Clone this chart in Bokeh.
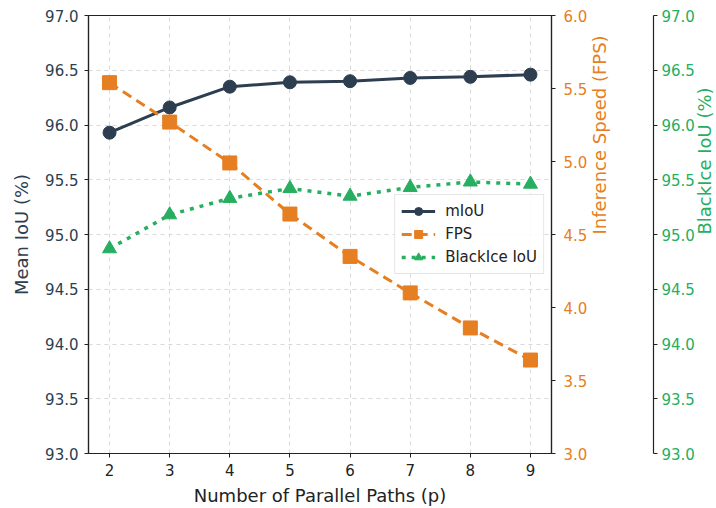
import math
from bokeh.plotting import figure
from bokeh.models import LinearAxis, Range1d, FixedTicker, NumeralTickFormatter, Legend, LegendItem, Title
from bokeh.embed import file_html
from bokeh.resources import INLINE

paths = [2, 3, 4, 5, 6, 7, 8, 9]
miou = [95.93, 96.16, 96.35, 96.39, 96.40, 96.43, 96.44, 96.46]
fps = [5.54, 5.27, 4.99, 4.64, 4.35, 4.10, 3.86, 3.64]
blackice = [94.87, 95.18, 95.33, 95.42, 95.35, 95.43, 95.48, 95.46]

iou_ticks = [93.0, 93.5, 94.0, 94.5, 95.0, 95.5, 96.0, 96.5, 97.0]
fps_ticks = [3.0, 3.5, 4.0, 4.5, 5.0, 5.5, 6.0]

NAVY = "#2c3e50"
ORANGE = "#e67e22"
GREEN = "#27ae60"
FONT = "DejaVu Sans"

p = figure(frame_width=463, frame_height=438,
           x_range=Range1d(1.65, 9.35), y_range=Range1d(93, 97),
           output_backend="svg", toolbar_location=None,
           min_border_left=88, min_border_right=0, min_border_top=15, min_border_bottom=47)
p.extra_y_ranges = {"fps": Range1d(3, 6), "bi": Range1d(93, 97)}
p.outline_line_color = "#222222"
p.outline_line_width = 1.2
p.background_fill_color = "white"
p.border_fill_color = "white"

def style_axis(ax, color, label_color):
    ax.major_tick_in = 0
    ax.major_tick_out = 4
    ax.minor_tick_line_color = None
    ax.axis_line_color = "#222222"
    ax.axis_line_width = 1.2
    ax.major_tick_line_color = "#222222"
    ax.major_label_text_font = FONT
    ax.major_label_text_font_size = "15px"
    ax.major_label_text_color = color
    ax.axis_label_text_font = FONT
    ax.axis_label_text_font_size = "18px"
    ax.axis_label_text_font_style = "normal"
    ax.axis_label_text_color = label_color

xa = p.xaxis[0]
xa.ticker = FixedTicker(ticks=paths)
xa.axis_label = "Number of Parallel Paths (p)"
style_axis(xa, "#222222", "#222222")
xa.major_label_standoff = 6
xa.axis_label_standoff = 6

ya = p.yaxis[0]
ya.ticker = FixedTicker(ticks=iou_ticks)
ya.formatter = NumeralTickFormatter(format="0.0")
ya.axis_label = "Mean IoU (%)"
style_axis(ya, NAVY, NAVY)
ya.major_label_standoff = 6
ya.axis_label_standoff = 10

fa = LinearAxis(y_range_name="fps", ticker=FixedTicker(ticks=fps_ticks),
                formatter=NumeralTickFormatter(format="0.0"),
                axis_label="Inference Speed (FPS)")
style_axis(fa, ORANGE, ORANGE)
fa.major_label_standoff = 8
fa.axis_label_standoff = 9
fa.axis_label_orientation = math.pi / 2
p.add_layout(fa, "right")

p.add_layout(Title(text=" ", text_font_size="18px", standoff=8), "right")

ba = LinearAxis(y_range_name="bi", ticker=FixedTicker(ticks=iou_ticks),
                formatter=NumeralTickFormatter(format="0.0"),
                axis_label="BlackIce IoU (%)")
style_axis(ba, GREEN, GREEN)
ba.major_label_standoff = 4
ba.axis_label_standoff = 7
ba.axis_label_orientation = math.pi / 2
p.add_layout(ba, "right")

for g in (p.xgrid[0], p.ygrid[0]):
    g.grid_line_color = "#d9d9d9"
    g.grid_line_dash = "4 4"
    g.grid_line_width = 1
p.xgrid[0].ticker = FixedTicker(ticks=paths)
p.ygrid[0].ticker = FixedTicker(ticks=iou_ticks)

l1 = p.line(paths, miou, line_color=NAVY, line_width=3)
m1 = p.scatter(paths, miou, marker="circle", size=13, fill_color=NAVY, line_color=NAVY)
l2 = p.line(paths, fps, y_range_name="fps", line_color=ORANGE, line_width=3, line_dash="10 6")
m2 = p.scatter(paths, fps, y_range_name="fps", marker="square", size=14, fill_color=ORANGE, line_color=ORANGE)
l3 = p.line(paths, blackice, y_range_name="bi", line_color=GREEN, line_width=3.5, line_dash="4 6")
m3 = p.scatter(paths, blackice, y_range_name="bi", marker="triangle", size=14, fill_color=GREEN, line_color=GREEN)

legend = Legend(items=[
    LegendItem(label="mIoU", renderers=[l1, m1]),
    LegendItem(label="FPS", renderers=[l2, m2]),
    LegendItem(label="BlackIce IoU", renderers=[l3, m3]),
], location="right")
legend.label_text_font = FONT
legend.label_text_font_size = "15px"
legend.label_text_color = "#222222"
legend.glyph_width = 34
legend.glyph_height = 20
legend.label_height = 20
legend.spacing = 3
legend.padding = 6
legend.margin = 7
legend.label_standoff = 10
legend.border_line_color = "#cccccc"
legend.border_line_width = 1
legend.background_fill_alpha = 0.85
p.add_layout(legend, "center")

open("out.html", "w").write(file_html(p, INLINE))
